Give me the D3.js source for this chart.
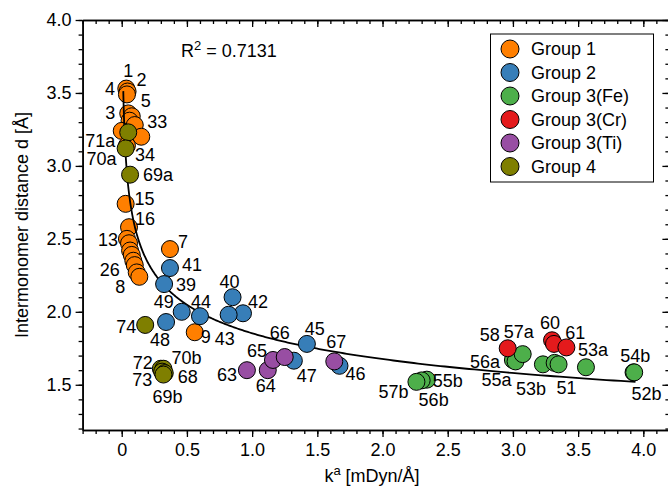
<!DOCTYPE html>
<html>
<head>
<meta charset="utf-8">
<script src="https://cdn.jsdelivr.net/npm/d3@7"></script>
<style>
  body { margin: 0; background: #fff; }
  text { font-family: "Liberation Sans", Arial, sans-serif; }
</style>
</head>
<body>
<div id="chart"></div>
<script>
// chart data
var groupNames = ["Group 1", "Group 2", "Group 3(Fe)", "Group 3(Cr)", "Group 3(Ti)", "Group 4"];
var groupColors = ["#ff7f00", "#377eb8", "#4daf4a", "#e41a1c", "#984ea3", "#7f7f00"];

// Group 1
var g1K = [0.035, 0.045, 0.04, 0.05, 0.077, 0.06, 0.10, 0.15, 0.00, 0.04, 0.03, 0.056, 0.04, 0.056, 0.064, 0.077, 0.089, 0.10, 0.115, 0.135, 0.37, 0.56];
var g1D = [3.53, 3.51, 3.49, 3.36, 3.34, 3.31, 3.28, 3.20, 3.24, 3.14, 2.74, 2.58, 2.50, 2.47, 2.42, 2.39, 2.35, 2.32, 2.27, 2.24, 2.43, 1.86];
var g1Labels = ["1", "2", "4", "3", "5", "", "", "33", "", "34", "15", "16", "13", "", "", "", "", "26", "", "8", "7", "9"];
// Group 2
var g2K = [0.37, 0.325, 0.46, 0.60, 0.34, 0.85, 0.93, 0.82, 1.42, 1.32, 1.67];
var g2D = [2.30, 2.19, 2.00, 1.97, 1.93, 2.10, 1.99, 1.98, 1.78, 1.665, 1.63];
var g2Labels = ["41", "39", "49", "44", "48", "40", "42", "43", "45", "47", "46"];
// Group 3(Fe)
var g3FeK = [2.34, 2.30, 2.26, 3.00, 3.02, 3.075, 3.23, 3.32, 3.35, 3.56, 3.925, 3.93];
var g3FeD = [1.535, 1.53, 1.52, 1.67, 1.66, 1.71, 1.64, 1.65, 1.64, 1.62, 1.585, 1.585];
var g3FeLabels = ["55b", "56b", "57b", "56a", "55a", "57a", "53b", "", "51", "53a", "52b", "54b"];
// Group 3(Cr)
var g3CrK = [2.96, 3.30, 3.315, 3.41];
var g3CrD = [1.75, 1.805, 1.78, 1.756];
var g3CrLabels = ["58", "60", "", "61"];
// Group 3(Ti)
var g3TiK = [0.96, 1.12, 1.16, 1.25, 1.63];
var g3TiD = [1.60, 1.60, 1.67, 1.69, 1.66];
var g3TiLabels = ["63", "64", "65", "66", "67"];
// Group 4
var g4K = [0.05, 0.03, 0.064, 0.18, 0.30, 0.32, 0.31, 0.33, 0.32];
var g4D = [3.23, 3.12, 2.94, 1.91, 1.61, 1.61, 1.59, 1.58, 1.57];
var g4Labels = ["71a", "70a", "69a", "74", "72", "70b", "73", "68", "69b"];

// label offsets in px (layout only)
var g1Off = [[2,-18],[14,-11],[-17,-5],[-18,0],[14,-15],[0,0],[0,0],[16,-15],[0,0],[18,10],[19,-5],[16,-8],[-19,1],[0,0],[0,0],[0,0],[0,0],[-25,5],[0,0],[-19,10],[13,-7],[11,5]];
var g2Off = [[22,-3],[22,1],[-18,-10],[1,-14],[-6,18],[-3,-15],[15,-11],[-4,24],[8,-15],[13,15],[16,8]];
var g3FeOff = [[21,1],[12,20],[-23,10],[-28,2],[-19,19],[-4,-22],[-12,25],[0,0],[8,24],[7,-17],[13,22],[1,-16]];
var g3CrOff = [[-18,-13],[-2,-17],[0,0],[9,-14]];
var g3TiOff = [[-20,5],[-2,16],[-16,-9],[-5,-24],[2,-19]];
var g4Off = [[-28,9],[-24,11],[28,0],[-19,2],[-18,-6],[23,-11],[-20,8],[23,4],[4,22]];

// power law fit d = a * k^b
var fitA = 1.853, fitB = -0.1446;
var fitKMin = 0.012, fitKMax = 3.94;
var rSquared = "0.7131";

var xTicks = [0, 0.5, 1.0, 1.5, 2.0, 2.5, 3.0, 3.5, 4.0];
var yTicks = [1.5, 2.0, 2.5, 3.0, 3.5, 4.0];

var groups = [
  {k: g1K, d: g1D, labels: g1Labels, off: g1Off},
  {k: g2K, d: g2D, labels: g2Labels, off: g2Off},
  {k: g3FeK, d: g3FeD, labels: g3FeLabels, off: g3FeOff},
  {k: g3CrK, d: g3CrD, labels: g3CrLabels, off: g3CrOff},
  {k: g3TiK, d: g3TiD, labels: g3TiLabels, off: g3TiOff},
  {k: g4K, d: g4D, labels: g4Labels, off: g4Off}
];

var width = 668, height = 489;
var plotLeft = 82.6, plotRight = 669.4, plotTop = 20, plotBottom = 430;
var dotR = 8.5;

var svg = d3.select("#chart").append("svg")
  .attr("width", width)
  .attr("height", height);

var x = d3.scaleLinear().domain([-0.3, 4.2]).range([plotLeft, plotRight]);
var y = d3.scaleLinear().domain([1.19, 4.0]).range([plotBottom, plotTop]);

var xMinor = d3.range(-3, 43).map(function(i) { return i / 10; });
var yMinor = d3.range(12, 41).map(function(i) { return i / 10; });

function styleAxis(g) {
  g.select(".domain").attr("stroke", "#000").attr("stroke-width", 1.5);
  g.selectAll(".tick line").attr("stroke", "#000").attr("stroke-width", 1.3);
  g.selectAll(".tick text").attr("font-size", 18).attr("fill", "#000")
    .attr("font-family", "Liberation Sans, Arial, sans-serif");
}

// bottom axis
svg.append("g").attr("transform", "translate(0," + plotBottom + ")")
  .call(d3.axisBottom(x).tickValues(xMinor).tickSize(4).tickSizeOuter(0).tickFormat(""))
  .call(styleAxis);
svg.append("g").attr("transform", "translate(0," + plotBottom + ")")
  .call(d3.axisBottom(x).tickValues(xTicks).tickSize(7).tickSizeOuter(0).tickPadding(6)
    .tickFormat(function(d) { return d === 0 ? "0" : d3.format(".1f")(d); }))
  .call(styleAxis);
// top axis, ticks inward
svg.append("g").attr("transform", "translate(0," + plotTop + ")")
  .call(d3.axisBottom(x).tickValues(xMinor).tickSize(4).tickSizeOuter(0).tickFormat(""))
  .call(styleAxis);
svg.append("g").attr("transform", "translate(0," + plotTop + ")")
  .call(d3.axisBottom(x).tickValues(xTicks).tickSize(7).tickSizeOuter(0).tickFormat(""))
  .call(styleAxis);
// left axis
svg.append("g").attr("transform", "translate(" + plotLeft + ",0)")
  .call(d3.axisLeft(y).tickValues(yMinor).tickSize(4).tickSizeOuter(0).tickFormat(""))
  .call(styleAxis);
svg.append("g").attr("transform", "translate(" + plotLeft + ",0)")
  .call(d3.axisLeft(y).tickValues(yTicks).tickSize(7).tickSizeOuter(0).tickPadding(4)
    .tickFormat(d3.format(".1f")))
  .call(styleAxis);
// right axis, ticks inward
svg.append("g").attr("transform", "translate(" + plotRight + ",0)")
  .call(d3.axisLeft(y).tickValues(yMinor).tickSize(4).tickSizeOuter(0).tickFormat(""))
  .call(styleAxis);
svg.append("g").attr("transform", "translate(" + plotRight + ",0)")
  .call(d3.axisLeft(y).tickValues(yTicks).tickSize(7).tickSizeOuter(0).tickFormat(""))
  .call(styleAxis);

// axis titles
svg.append("text")
  .attr("transform", "translate(28," + ((plotTop + plotBottom) / 2) + ") rotate(-90)")
  .attr("text-anchor", "middle")
  .attr("font-size", 18)
  .text("Intermonomer distance d [Å]");

var xTitle = svg.append("text")
  .attr("x", (plotLeft + plotRight) / 2 - 4)
  .attr("y", 482)
  .attr("text-anchor", "middle")
  .attr("font-size", 18);
xTitle.append("tspan").text("k");
xTitle.append("tspan").attr("font-size", 13).attr("dy", -7).text("a");
xTitle.append("tspan").attr("dy", 7).text(" [mDyn/Å]");

// R squared
var rText = svg.append("text").attr("x", 181).attr("y", 57).attr("font-size", 18);
rText.append("tspan").text("R");
rText.append("tspan").attr("font-size", 13).attr("dy", -7).text("2");
rText.append("tspan").attr("dy", 7).text(" = " + rSquared);

var plot = svg.append("g");

function drawGroup(gi) {
  var grp = groups[gi];
  var pts = grp.k.map(function(k, i) {
    return {k: k, d: grp.d[i], label: grp.labels[i], off: grp.off[i]};
  });
  plot.append("g").selectAll("circle").data(pts).enter().append("circle")
    .attr("cx", function(p) { return x(p.k); })
    .attr("cy", function(p) { return y(p.d); })
    .attr("r", dotR)
    .attr("fill", groupColors[gi])
    .attr("stroke", "#000")
    .attr("stroke-width", 1);
}

function drawLabels(gi) {
  var grp = groups[gi];
  var pts = grp.k.map(function(k, i) {
    return {k: k, d: grp.d[i], label: grp.labels[i], off: grp.off[i]};
  }).filter(function(p) { return p.label !== ""; });
  plot.append("g").selectAll("text").data(pts).enter().append("text")
    .attr("x", function(p) { return x(p.k) + p.off[0]; })
    .attr("y", function(p) { return y(p.d) + p.off[1]; })
    .attr("text-anchor", "middle")
    .attr("dominant-baseline", "central")
    .attr("font-size", 18)
    .text(function(p) { return p.label; });
}

drawGroup(0);

// fit curve
var fitK = d3.range(0, 401).map(function(i) {
  return Math.exp(Math.log(fitKMin) + (Math.log(fitKMax) - Math.log(fitKMin)) * i / 400);
});
var line = d3.line()
  .x(function(k) { return x(k); })
  .y(function(k) { return y(fitA * Math.pow(k, fitB)); });
plot.append("path")
  .datum(fitK)
  .attr("d", line)
  .attr("fill", "none")
  .attr("stroke", "#000")
  .attr("stroke-width", 1.8);

for (var gi = 1; gi < groups.length; gi++) drawGroup(gi);
for (var gj = 0; gj < groups.length; gj++) drawLabels(gj);

// legend
var legend = svg.append("g");
legend.append("rect")
  .attr("x", 490.5).attr("y", 34)
  .attr("width", 163).attr("height", 148)
  .attr("fill", "#fff").attr("stroke", "#000").attr("stroke-width", 1);
var items = legend.selectAll("g.item").data(groupNames).enter().append("g")
  .attr("transform", function(d, i) { return "translate(510," + (49 + i * 23.5) + ")"; });
items.append("circle").attr("r", 9)
  .attr("fill", function(d, i) { return groupColors[i]; })
  .attr("stroke", "#000").attr("stroke-width", 1);
items.append("text").attr("x", 21).attr("dominant-baseline", "central")
  .attr("font-size", 18).text(function(d) { return d; });
</script>
</body>
</html>
